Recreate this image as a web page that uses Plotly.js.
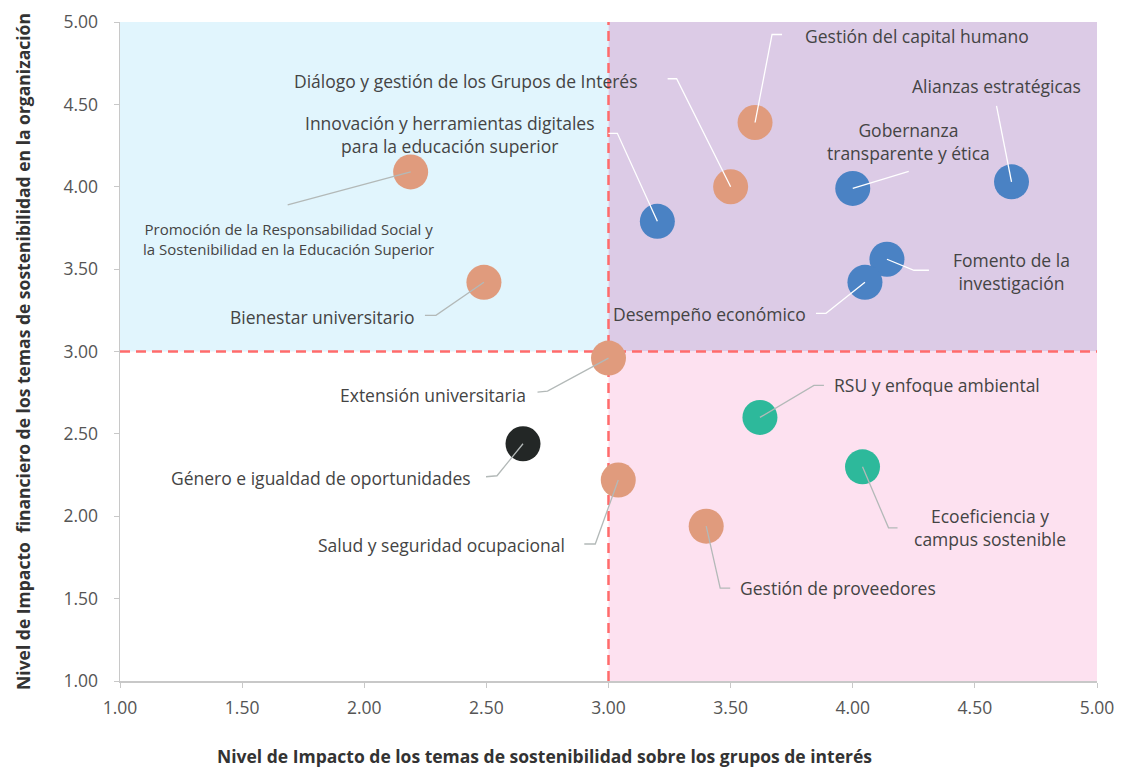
<!DOCTYPE html>
<html><head><meta charset="utf-8">
<script src="https://cdn.plot.ly/plotly-3.0.1.min.js"></script>
<style>html,body{margin:0;padding:0;background:#fff}#chart{width:1138px;height:767px}</style>
</head><body><div id="chart"></div>
<script>
// ---- data ----
const temas = [
  "Promoción de la Responsabilidad Social y<br>la Sostenibilidad en la Educación Superior",
  "Bienestar universitario",
  "Extensión universitaria",
  "Género e igualdad de oportunidades",
  "Salud y seguridad ocupacional",
  "Gestión de proveedores",
  "RSU y enfoque ambiental",
  "Ecoeficiencia y<br>campus sostenible",
  "Innovación y herramientas digitales<br>para la educación superior",
  "Diálogo y gestión de los Grupos de Interés",
  "Gestión del capital humano",
  "Gobernanza<br>transparente y ética",
  "Alianzas estratégicas",
  "Fomento de la<br>investigación",
  "Desempeño económico"
];
const impactoGrupos =     [2.19, 2.49, 3.00, 2.65, 3.04, 3.40, 3.62, 4.04, 3.20, 3.50, 3.60, 4.00, 4.65, 4.14, 4.05];
const impactoFinanciero = [4.09, 3.42, 2.96, 2.44, 2.22, 1.94, 2.60, 2.30, 3.79, 4.00, 4.39, 3.99, 4.03, 3.56, 3.42];
const grupo = ["s","s","s","g","s","s","a","a","i","s","s","i","i","i","i"];
const xTicks = [1.0, 1.5, 2.0, 2.5, 3.0, 3.5, 4.0, 4.5, 5.0];
const yTicks = [1.0, 1.5, 2.0, 2.5, 3.0, 3.5, 4.0, 4.5, 5.0];
const umbral = 3.0;

// ---- styles / label placement (pixel offsets, y up) ----
const colores = {s:"#e09b7d", i:"#4a82c4", a:"#2db99b", g:"#232726"};
const labelPos = [
  {dx:-122, dy:-67, anchor:"center", size:15, path:[[-123,-33]]},
  {dx:-67,  dy:-35, anchor:"right", path:[[-48,-33],[-59,-33]]},
  {dx:-81,  dy:-37, anchor:"right", path:[[-61,-33],[-71,-34]]},
  {dx:-50,  dy:-34, anchor:"right", path:[[-26,-32],[-37,-33]]},
  {dx:-51,  dy:-65, anchor:"right", path:[[-23,-64],[-34,-64]]},
  {dx:32,   dy:-62, anchor:"left",  path:[[14,-62],[24,-62]]},
  {dx:72,   dy:32,  anchor:"left",  path:[[54,32],[64,32]]},
  {dx:127,  dy:-61, anchor:"center", path:[[26,-61],[35,-61]]},
  {dx:-208, dy:87,  anchor:"center", path:[[-40,88],[-49,88]]},
  {dx:-91,  dy:106, anchor:"right", path:[[-54,108],[-63,108]]},
  {dx:48,   dy:87,  anchor:"left",  path:[[17,88],[27,88]]},
  {dx:56,   dy:47,  anchor:"center", path:[[56,17]]},
  {dx:-15,  dy:96,  anchor:"center", path:[[-15,76]]},
  {dx:125,  dy:-12, anchor:"center", path:[[27,-11],[42,-11]]},
  {dx:-57,  dy:-32, anchor:"right", path:[[-39,-31],[-49,-31]]}
];

const shapes = [
  {type:"rect", xref:"x", yref:"y", x0:1, x1:umbral, y0:umbral, y1:5, fillcolor:"#e1f5fd", line:{width:0}, layer:"below"},
  {type:"rect", xref:"x", yref:"y", x0:umbral, x1:5, y0:umbral, y1:5, fillcolor:"#dccbe6", line:{width:0}, layer:"below"},
  {type:"rect", xref:"x", yref:"y", x0:umbral, x1:5, y0:1, y1:umbral, fillcolor:"#fde1f0", line:{width:0}, layer:"below"},
  {type:"line", xref:"x", yref:"y", x0:umbral, x1:umbral, y0:1, y1:5, line:{color:"#ff6b6b", width:2.5, dash:"10px,6px"}, layer:"below"},
  {type:"line", xref:"x", yref:"y", x0:1, x1:5, y0:umbral, y1:umbral, line:{color:"#ff6b6b", width:2.5, dash:"10px,6px"}, layer:"below"}
];
const annotations = [];
temas.forEach((t, k) => {
  const p = labelPos[k];
  const x = impactoGrupos[k], y = impactoFinanciero[k];
  const enMorado = x > umbral && y > umbral;
  shapes.push({
    type:"path", xref:"x", yref:"y", xsizemode:"pixel", ysizemode:"pixel",
    xanchor:x, yanchor:y,
    path:"M0,0 " + p.path.map(q => "L" + q[0] + "," + q[1]).join(" "),
    line:{color: enMorado ? "#ffffff" : "#b3b9b8", width:1.3}, layer:"above"
  });
  annotations.push({
    x:x, y:y, xref:"x", yref:"y", text:t, showarrow:false,
    xshift:p.dx, yshift:p.dy, xanchor:p.anchor, yanchor:"middle", align:"center",
    font:{family:"Open Sans", size:p.size || 17.5, color:"#444"}
  });
});
annotations.push({
  xref:"paper", yref:"paper", x:0.434, y:-0.114, xanchor:"center", yanchor:"middle", showarrow:false,
  text:"<b>Nivel de Impacto de los temas de sostenibilidad sobre los grupos de interés</b>",
  font:{family:"Open Sans", size:17.5, color:"#333"}
});

const trace = {
  type:"scatter", mode:"markers", x:impactoGrupos, y:impactoFinanciero,
  text:temas, hoverinfo:"text",
  marker:{size:35, color:grupo.map(g => colores[g]), opacity:1, line:{width:0}}
};

const layout = {
  width:1138, height:767,
  margin:{l:120, r:41, t:22, b:86},
  paper_bgcolor:"#fff", plot_bgcolor:"#fff",
  showlegend:false, hovermode:false,
  font:{family:"Open Sans", color:"#555"},
  xaxis:{range:[1,5], tickvals:xTicks, ticktext:xTicks.map(v=>v.toFixed(2)),
    showgrid:false, zeroline:false, showline:true, linecolor:"#c8c8c8", linewidth:1.5,
    ticks:"outside", ticklen:5, tickcolor:"#c8c8c8", ticklabelstandoff:5,
    tickfont:{family:"Open Sans", size:17.5, color:"#555"}},
  yaxis:{range:[1,5], tickvals:yTicks, ticktext:yTicks.map(v=>v.toFixed(2)),
    showgrid:false, zeroline:false, showline:true, linecolor:"#c8c8c8", linewidth:1.5,
    ticks:"outside", ticklen:5, tickcolor:"#c8c8c8", ticklabelstandoff:12,
    tickfont:{family:"Open Sans", size:17.5, color:"#555"},
    title:{text:"<b>Nivel de Impacto  financiero de los temas de sostenibilidad en la organización</b>",
      font:{family:"Open Sans", size:17.5, color:"#333"}, standoff:28}},
  shapes:shapes, annotations:annotations
};
Plotly.newPlot("chart", [trace], layout, {displayModeBar:false, staticPlot:true});
</script>
</body></html>
